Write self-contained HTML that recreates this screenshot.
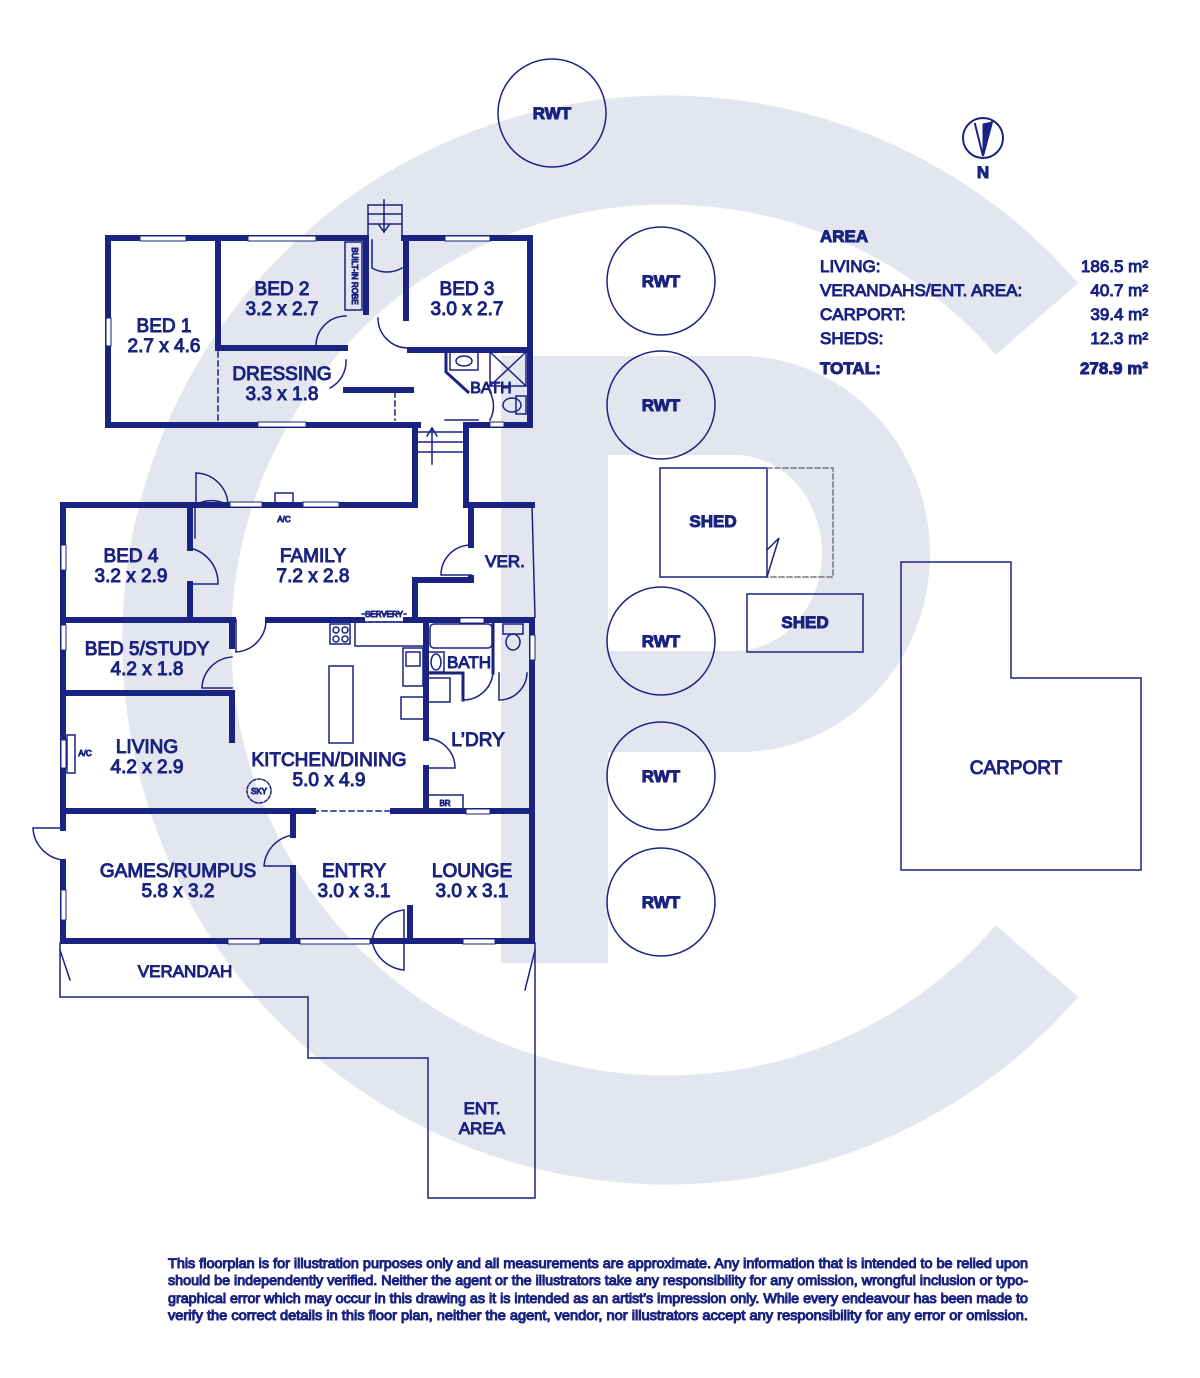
<!DOCTYPE html>
<html><head><meta charset="utf-8"><style>
html,body{margin:0;padding:0;background:#fff;}
svg{display:block;}
text{font-family:"Liberation Sans",sans-serif;fill:#1a2381;}
.lb{font-size:19px;text-anchor:middle;}
.sm{font-size:8px;text-anchor:middle;}
.ar{font-size:17px;}
.ft{font-size:13.6px;}
</style></head><body>
<svg width="1200" height="1378" viewBox="0 0 1200 1378" xmlns="http://www.w3.org/2000/svg">
<!-- watermark -->
<path d="M1037 319 A490 490 0 1 0 1037 961" fill="none" stroke="#e3e5ef" stroke-width="109"/>
<path fill-rule="evenodd" fill="#e3e5ef" d="M501 356 H740 A190 198 0 0 1 740 752 H608 V963 H501 Z M608 455 H735 A87 98 0 0 1 735 651 H608 Z"/>

<g fill="none" stroke="#1a2381" stroke-linecap="square">
<!-- upper block outer thick walls -->
<g stroke-width="6">
<path d="M108 238 H366 M404 238 H530 V425 H466 M418 425 H108 V238"/>
<path d="M218 238 V348 H345"/>
<path d="M366 238 V312 M406 238 V318"/>
<path d="M410 350 H530"/>
<path d="M346 390 H411"/>
<path d="M415 427 V505 M466 427 V505"/>
<!-- lower block -->
<path d="M63 505 H415 M466 505 H532"/>
<path d="M63 505 V828 M63 862 V941 H532 V620"/>
<path d="M190 505 V548 M190 584 V620"/>
<path d="M63 620 H233 M268 620 H362 M406 620 H532"/>
<path d="M232 620 V646 M232 693 V740 M63 693 H232"/>
<path d="M63 811 H313 M393 811 H532"/>
<path d="M293 811 V835 M293 868 V941"/>
<path d="M410 908 V941"/>
<path d="M426 620 V738 M426 768 V811"/>
<path d="M471 505 V545 M471 578 V580 H415 V615"/>
</g>
<g stroke-width="3">
<path d="M426 673 H463 V700 M493 620 V673"/>
<path d="M446 352 V372 L468 392"/>
</g>
<!-- thin lines -->
<g stroke-width="1.5">
<path d="M532 505 L535 617"/>
<rect x="345" y="242" width="17" height="68"/>
<path d="M218 352 V425" stroke-dasharray="5 4"/>
<path d="M395 392 V420" stroke-dasharray="5 4"/>
<path d="M313 811 H393" stroke-dasharray="5 4"/>
<path d="M362 614 H406 M362 622 H406" stroke-dasharray="4 3"/>
<!-- door arcs -->
<path d="M346 316 A30 30 0 0 0 316 346 H346"/>
<path d="M346 360 A30 30 0 0 1 330 388"/>
<path d="M378 318 A30 30 0 0 0 408 348"/>
<path d="M372 240 V268 A30 30 0 0 0 402 268"/>
<path d="M490 392 A30 30 0 0 1 490 420"/>
<path d="M195 505 A33 33 0 0 1 228 505 M195 505 V538"/>
<path d="M196 473 A33 33 0 0 1 228 505 H196 Z"/>
<path d="M190 548 A36 36 0 0 1 218 584 H190"/>
<path d="M236 620 V652 A32 32 0 0 0 266 620"/>
<path d="M232 657 A32 32 0 0 0 202 688 H232"/>
<path d="M471 545 A30 30 0 0 0 441 575 H471"/>
<path d="M426 738 A30 30 0 0 1 455 768 H426"/>
<path d="M463 700 A30 30 0 0 0 493 673"/>
<path d="M499 673 V700 A28 28 0 0 0 527 673"/>
<path d="M293 835 A34 34 0 0 0 264 866 H293"/>
<path d="M372 941 A36 36 0 0 1 404 910 V970 A36 36 0 0 1 372 941"/>
<path d="M63 828 H33 A34 34 0 0 0 63 860"/>
<!-- stairs -->
<path d="M368 205 H402 V238 M368 205 V238 M368 214 H402 M368 224 H402 M384 200 V232 M379 225 L384 232 L389 225"/>
<path d="M418 432 H462 M418 442 H462 M418 452 H462 M432 464 V428 M427 436 L432 428 L437 436 M445 420 H478"/>
<!-- bathroom fixtures -->
<rect x="450" y="352" width="28" height="18"/><ellipse cx="464" cy="361" rx="8" ry="5"/>
<rect x="490" y="352" width="36" height="34"/><path d="M490 352 L526 386 M526 352 L490 386"/>
<rect x="516" y="396" width="10" height="18"/><ellipse cx="512" cy="405" rx="9" ry="7"/>
<rect x="430" y="624" width="62" height="24" rx="4"/>
<rect x="503" y="624" width="20" height="10"/><ellipse cx="513" cy="642" rx="7" ry="8"/>
<rect x="428" y="652" width="16" height="20"/><ellipse cx="436" cy="662" rx="5" ry="8"/>
<rect x="428" y="678" width="22" height="24"/>
<rect x="330" y="624" width="20" height="20"/>
<circle cx="336" cy="630" r="3"/><circle cx="345" cy="630" r="3"/><circle cx="336" cy="639" r="3"/><circle cx="345" cy="639" r="3"/>
<rect x="355" y="622" width="70" height="24"/>
<rect x="403" y="648" width="20" height="38"/><rect x="406" y="652" width="14" height="14"/>
<rect x="401" y="697" width="25" height="22"/>
<rect x="329" y="666" width="24" height="77"/>
<rect x="428" y="795" width="35" height="16"/>
<rect x="275" y="493" width="18" height="12"/>
<rect x="67" y="735" width="8" height="38"/>
<circle cx="259" cy="791" r="12" stroke-dasharray="3 2"/>
<!-- verandah -->
<path d="M60 943 V997 H308 V1058 H428 V1198 H535 V943"/>
<path d="M60 950 L70 980 M535 950 L525 990"/>
<!-- RWT -->
<circle cx="552" cy="113" r="54"/><circle cx="661" cy="281" r="54"/><circle cx="661" cy="405" r="54"/>
<circle cx="661" cy="641" r="54"/><circle cx="661" cy="776" r="54"/><circle cx="661" cy="902" r="54"/>
<rect x="660" y="468" width="107" height="109"/>
<path d="M767 468 H833 V577 H767" stroke="#777" stroke-dasharray="5 3"/>
<path d="M767 550 L779 538 L767 577"/>
<rect x="747" y="594" width="116" height="58"/>
<path d="M901 562 H1011 V678 H1141 V870 H901 Z"/>
<circle cx="983" cy="138" r="20" stroke-width="2"/>
<path d="M975 124 L983 156 L992 122" stroke-width="2"/>
</g>
<!-- windows -->
<g fill="#fff" stroke="#1a2381" stroke-width="1">
<rect x="140" y="236" width="46" height="5"/><rect x="248" y="236" width="68" height="5"/><rect x="445" y="236" width="45" height="5"/>
<rect x="106" y="318" width="5" height="28"/><rect x="258" y="422" width="48" height="5"/><rect x="490" y="422" width="14" height="5"/>
<rect x="230" y="502" width="32" height="5"/><rect x="303" y="502" width="36" height="5"/>
<rect x="61" y="545" width="5" height="25"/><rect x="61" y="625" width="5" height="25"/><rect x="61" y="740" width="5" height="28"/>
<rect x="61" y="890" width="5" height="30"/><rect x="530" y="635" width="5" height="25"/><rect x="460" y="618" width="24" height="5"/>
<rect x="466" y="809" width="24" height="5"/><rect x="228" y="939" width="32" height="5"/><rect x="300" y="939" width="70" height="5"/>
<rect x="463" y="939" width="32" height="5"/>
</g>
<path d="M983 124 L983 156 L992 122 Z" fill="#1a2381"/>
<!-- labels -->
<text class="lb" x="164" y="332">BED 1</text><text class="lb" x="164" y="352">2.7 x 4.6</text>
<text class="lb" x="282" y="295">BED 2</text><text class="lb" x="282" y="315">3.2 x 2.7</text>
<text class="lb" x="467" y="295">BED 3</text><text class="lb" x="467" y="315">3.0 x 2.7</text>
<text class="lb" x="282" y="380">DRESSING</text><text class="lb" x="282" y="400">3.3 x 1.8</text>
<text class="lb" x="491" y="393" style="font-size:16px">BATH</text>
<text class="sm" x="352" y="276" transform="rotate(90 352 276)">BUILT-IN ROBE</text>
<text class="lb" x="131" y="562">BED 4</text><text class="lb" x="131" y="582">3.2 x 2.9</text>
<text class="lb" x="313" y="562">FAMILY</text><text class="lb" x="313" y="582">7.2 x 2.8</text>
<text class="lb" x="505" y="567" style="font-size:17px">VER.</text>
<text class="sm" x="284" y="522">A/C</text><text class="sm" x="384" y="617">SERVERY</text>
<text class="lb" x="147" y="655">BED 5/STUDY</text><text class="lb" x="147" y="675">4.2 x 1.8</text>
<text class="lb" x="469" y="668" style="font-size:17px">BATH</text>
<text class="lb" x="147" y="753">LIVING</text><text class="lb" x="147" y="773">4.2 x 2.9</text>
<text class="sm" x="85" y="756">A/C</text>
<text class="lb" x="329" y="766">KITCHEN/DINING</text><text class="lb" x="329" y="786">5.0 x 4.9</text>
<text class="sm" x="259" y="794">SKY</text><text class="sm" x="445" y="806">BR</text>
<text class="lb" x="478" y="746">L’DRY</text>
<text class="lb" x="178" y="877">GAMES/RUMPUS</text><text class="lb" x="178" y="897">5.8 x 3.2</text>
<text class="lb" x="354" y="877">ENTRY</text><text class="lb" x="354" y="897">3.0 x 3.1</text>
<text class="lb" x="472" y="877">LOUNGE</text><text class="lb" x="472" y="897">3.0 x 3.1</text>
<text class="lb" x="185" y="977" style="font-size:17px">VERANDAH</text>
<text class="lb" x="482" y="1114" style="font-size:17px">ENT.</text><text class="lb" x="482" y="1134" style="font-size:17px">AREA</text>
<g style="font-size:17px;font-weight:bold;text-anchor:middle">
<text x="552" y="119">RWT</text><text x="661" y="287">RWT</text><text x="661" y="411">RWT</text>
<text x="661" y="647">RWT</text><text x="661" y="782">RWT</text><text x="661" y="908">RWT</text>
<text x="713" y="527">SHED</text><text x="805" y="628">SHED</text>
<text x="983" y="178">N</text>
</g>
<text class="lb" x="1016" y="774">CARPORT</text>
<text class="ar" x="820" y="242" style="font-weight:bold">AREA</text>
<text class="ar" x="820" y="272">LIVING:</text><text class="ar" x="820" y="296">VERANDAHS/ENT. AREA:</text>
<text class="ar" x="820" y="320">CARPORT:</text><text class="ar" x="820" y="344">SHEDS:</text>
<text class="ar" x="820" y="374" style="font-weight:bold">TOTAL:</text>
<g class="ar" style="text-anchor:end">
<text class="ar" x="1148" y="272" text-anchor="end">186.5 m²</text>
<text class="ar" x="1148" y="296" text-anchor="end">40.7 m²</text>
<text class="ar" x="1148" y="320" text-anchor="end">39.4 m²</text>
<text class="ar" x="1148" y="344" text-anchor="end">12.3 m²</text>
<text class="ar" x="1148" y="374" text-anchor="end" style="font-weight:bold">278.9 m²</text>
</g>
<text class="ft" x="168" y="1268" textLength="860" lengthAdjust="spacingAndGlyphs">This floorplan is for illustration purposes only and all measurements are approximate. Any information that is intended to be relied upon</text>
<text class="ft" x="168" y="1285" textLength="860" lengthAdjust="spacingAndGlyphs">should be independently verified. Neither the agent or the illustrators take any responsibility for any omission, wrongful inclusion or typo-</text>
<text class="ft" x="168" y="1303" textLength="860" lengthAdjust="spacingAndGlyphs">graphical error which may occur in this drawing as it is intended as an artist’s impression only. While every endeavour has been made to</text>
<text class="ft" x="168" y="1320" textLength="860" lengthAdjust="spacingAndGlyphs">verify the correct details in this floor plan, neither the agent, vendor, nor illustrators accept any responsibility for any error or omission.</text>
</svg>
</body></html>
